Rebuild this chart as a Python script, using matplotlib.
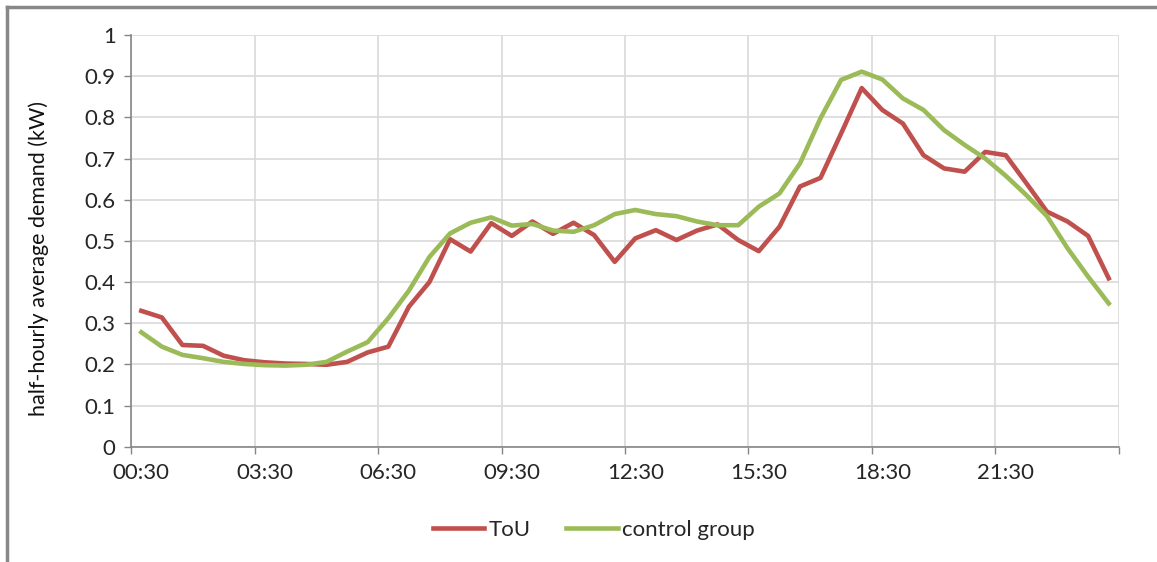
import numpy as np
import matplotlib.pyplot as plt
from matplotlib.lines import Line2D

plt.rcParams["font.family"] = ["Lato", "DejaVu Sans"]

# half-hourly average demand, 00:30 .. 24:00 (48 periods)
tou = [0.330, 0.314, 0.247, 0.245, 0.221, 0.210, 0.205, 0.202, 0.201, 0.199,
       0.206, 0.229, 0.243, 0.340, 0.400, 0.504, 0.474, 0.543, 0.512, 0.547,
       0.517, 0.544, 0.514, 0.449, 0.506, 0.526, 0.502, 0.525, 0.540, 0.502,
       0.475, 0.534, 0.632, 0.653, 0.761, 0.871, 0.818, 0.785, 0.708, 0.676,
       0.668, 0.716, 0.708, 0.640, 0.571, 0.547, 0.512, 0.409]
control = [0.278, 0.243, 0.223, 0.215, 0.206, 0.201, 0.198, 0.197, 0.199, 0.206,
           0.231, 0.254, 0.312, 0.379, 0.461, 0.518, 0.544, 0.557, 0.537, 0.541,
           0.525, 0.522, 0.538, 0.565, 0.575, 0.565, 0.560, 0.547, 0.538, 0.538,
           0.583, 0.615, 0.688, 0.798, 0.891, 0.911, 0.892, 0.846, 0.818, 0.769,
           0.733, 0.700, 0.658, 0.611, 0.560, 0.482, 0.413, 0.348]
time_labels = ["00:30", "03:30", "06:30", "09:30", "12:30", "15:30", "18:30", "21:30"]
y_labels = ["0", "0.1", "0.2", "0.3", "0.4", "0.5", "0.6", "0.7", "0.8", "0.9", "1"]

red = "#C0504D"
green = "#9BBB59"
txt = "#262626"

fig = plt.figure(figsize=(11.57, 5.62), dpi=100)
ax = fig.add_axes([131 / 1157, 1 - 446.7 / 562, (1119 - 131) / 1157, (446.7 - 35) / 562])

x = np.arange(len(tou))
ax.plot(x, tou, color=red, lw=3.3, label="ToU", solid_joinstyle="round")
ax.plot(x, control, color=green, lw=3.3, label="control group", solid_joinstyle="round")

ax.set_xlim(-0.5, 47.5)
ax.set_ylim(0, 1)

# category boundaries -> ticks and gridlines, labels at category centres
ax.set_xticks(np.arange(-0.5, 48, 6))
ax.set_xticklabels([])
ax.set_xticks(np.arange(0, 48, 6), minor=True)
ax.set_xticklabels(time_labels, minor=True)
ax.tick_params(axis="x", which="minor", length=0, pad=12, labelsize=16, labelcolor=txt)
ax.tick_params(axis="x", which="major", length=5, width=1, color="#868686", direction="out")

ax.set_yticks(np.linspace(0, 1, 11))
ax.set_yticklabels(y_labels)
ax.tick_params(axis="y", length=5, width=1, color="#868686", labelsize=16,
               labelcolor=txt, pad=6)

ax.grid(True, which="major", color="#D9D9D9", lw=1.2)
ax.set_axisbelow(True)
for s in ["top", "right"]:
    ax.spines[s].set_visible(False)
for s in ["left", "bottom"]:
    ax.spines[s].set_color("#868686")
    ax.spines[s].set_linewidth(1.2)

ax.set_ylabel("half-hourly average demand (kW)", fontsize=15.5, color="#111111")
ax.yaxis.set_label_coords(-0.083, 0.458)

fig.legend(handles=[Line2D([], [], color=red, lw=3.3), Line2D([], [], color=green, lw=3.3)],
           labels=["ToU", "control group"], loc="center",
           bbox_to_anchor=(594 / 1157, 1 - 530 / 562), ncol=2, frameon=False,
           fontsize=16, handlelength=2.3, handletextpad=0.2, columnspacing=1.6,
           labelcolor=txt)

# chart border (top and left edges visible)
fig.add_artist(Line2D([7 / 1157, 1], [1 - 7 / 562, 1 - 7 / 562], color="#888888", lw=2.5,
                      transform=fig.transFigure))
fig.add_artist(Line2D([7 / 1157, 7 / 1157], [0, 1 - 7 / 562], color="#888888", lw=2.5,
                      transform=fig.transFigure))

fig.savefig("out.png", dpi=100, facecolor="white")
